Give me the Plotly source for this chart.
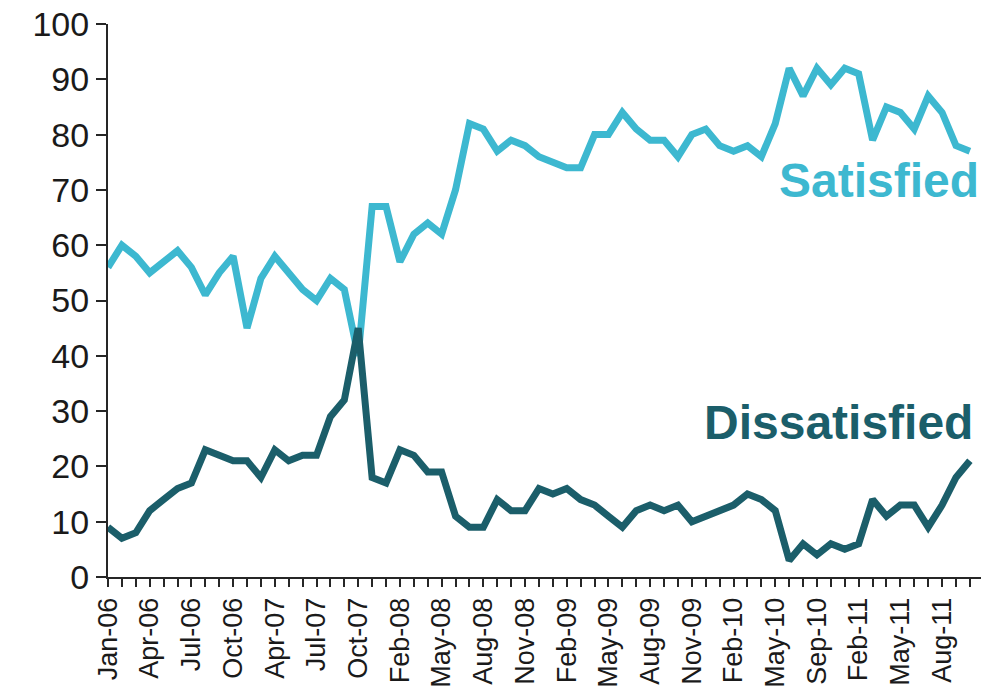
import plotly.graph_objects as go

months = [
    "Jan-06", "Feb-06", "Mar-06", "Apr-06", "May-06", "Jun-06", "Jul-06", "Aug-06", "Sep-06", "Oct-06",
    "Dec-06", "Feb-07", "Apr-07", "May-07", "Jun-07", "Jul-07", "Aug-07", "Sep-07", "Oct-07", "Nov-07",
    "Jan-08", "Feb-08", "Mar-08", "Apr-08", "May-08", "Jun-08", "Jul-08", "Aug-08", "Sep-08", "Oct-08",
    "Nov-08", "Dec-08", "Jan-09", "Feb-09", "Mar-09", "Apr-09", "May-09", "Jun-09", "Jul-09", "Aug-09",
    "Sep-09", "Oct-09", "Nov-09", "Dec-09", "Jan-10", "Feb-10", "Mar-10", "Apr-10", "May-10", "Jun-10",
    "Jul-10", "Sep-10", "Oct-10", "Dec-10", "Feb-11", "Mar-11", "Apr-11", "May-11", "Jun-11", "Jul-11",
    "Aug-11", "Sep-11", "Oct-11",
]

satisfied = [
    56, 60, 58, 55, 57, 59, 56, 51, 55, 58,
    45, 54, 58, 55, 52, 50, 54, 52, 40, 67,
    67, 57, 62, 64, 62, 70, 82, 81, 77, 79,
    78, 76, 75, 74, 74, 80, 80, 84, 81, 79,
    79, 76, 80, 81, 78, 77, 78, 76, 82, 92,
    87, 92, 89, 92, 91, 79, 85, 84, 81, 87,
    84, 78, 77,
]

dissatisfied = [
    9, 7, 8, 12, 14, 16, 17, 23, 22, 21,
    21, 18, 23, 21, 22, 22, 29, 32, 45, 18,
    17, 23, 22, 19, 19, 11, 9, 9, 14, 12,
    12, 16, 15, 16, 14, 13, 11, 9, 12, 13,
    12, 13, 10, 11, 12, 13, 15, 14, 12, 3,
    6, 4, 6, 5, 6, 14, 11, 13, 13, 9,
    13, 18, 21,
]

labelled_months = [
    "Jan-06", "Apr-06", "Jul-06", "Oct-06", "Apr-07", "Jul-07", "Oct-07", "Feb-08", "May-08", "Aug-08",
    "Nov-08", "Feb-09", "May-09", "Aug-09", "Nov-09", "Feb-10", "May-10", "Sep-10", "Feb-11", "May-11",
    "Aug-11",
]

y_ticks = [0, 10, 20, 30, 40, 50, 60, 70, 80, 90, 100]

LIGHT = "#3db8d0"
DARK = "#1b5e6a"
AXIS = "#262626"

ticktext = [m if m in labelled_months else "" for m in months]

fig = go.Figure()
fig.add_trace(go.Scatter(x=months, y=satisfied, mode="lines", name="Satisfied",
                         line=dict(color=LIGHT, width=7)))
fig.add_trace(go.Scatter(x=months, y=dissatisfied, mode="lines", name="Dissatisfied",
                         line=dict(color=DARK, width=7)))

fig.add_annotation(x=len(months) - 0.2, y=satisfied[-1] - 5.3, text="<b>Satisfied</b>",
                   showarrow=False, xanchor="right", yanchor="middle",
                   xref="x", yref="y",
                   font=dict(family="Liberation Sans, Arial", size=48, color=LIGHT))
fig.add_annotation(x=len(months) - 0.6, y=dissatisfied[-1] + 7.0, text="<b>Dissatisfied</b>",
                   showarrow=False, xanchor="right", yanchor="middle",
                   xref="x", yref="y",
                   font=dict(family="Liberation Sans, Arial", size=48, color=DARK))

fig.update_layout(
    width=996, height=690,
    margin=dict(l=108, r=15, t=24, b=113),
    paper_bgcolor="white", plot_bgcolor="white",
    showlegend=False,
    font=dict(family="Liberation Sans, Arial", color="#1a1a1a"),
)

fig.update_xaxes(
    type="category",
    categoryorder="array", categoryarray=months,
    tickmode="array", tickvals=months, ticktext=ticktext,
    tickangle=-90,
    tickfont=dict(size=27, color="#1a1a1a"),
    range=[0, len(months) - 0.2],
    automargin=False,
    showgrid=False, zeroline=False,
    showline=True, linecolor=AXIS, linewidth=2,
    ticks="outside", ticklen=8, tickwidth=2, tickcolor=AXIS,
)
fig.update_yaxes(
    range=[0, 100],
    tickmode="array", tickvals=y_ticks,
    tickfont=dict(size=34, color="#1a1a1a"),
    automargin=False,
    showgrid=False, zeroline=False,
    showline=True, linecolor=AXIS, linewidth=2,
    ticks="outside", ticklen=10, tickwidth=2, tickcolor=AXIS,
)

fig.write_html("out.html", config={"displayModeBar": False},
               post_script="document.body.style.margin='0';document.body.style.overflow='hidden';")
